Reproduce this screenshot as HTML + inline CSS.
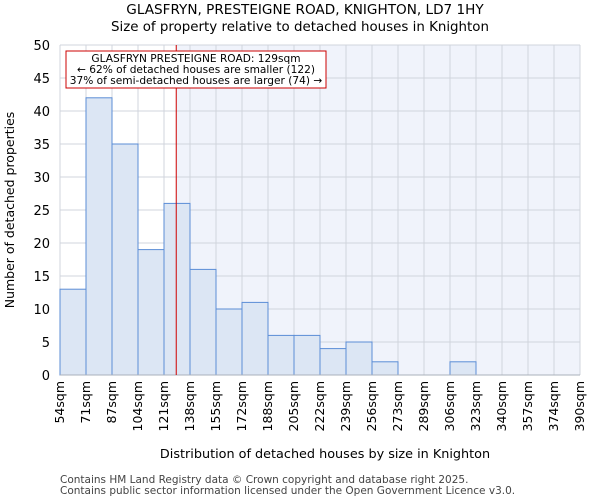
<!DOCTYPE html>
<html><head><meta charset="utf-8"><style>
body{margin:0;background:#fff;width:600px;height:500px;overflow:hidden;font-family:"DejaVu Sans","Liberation Sans",sans-serif}
</style></head><body>
<svg id="chart" width="600" height="500" font-family="DejaVu Sans, Liberation Sans, sans-serif">
<text x="305" y="14" text-anchor="middle" font-size="13.6">GLASFRYN, PRESTEIGNE ROAD, KNIGHTON, LD7 1HY</text>
<text x="300" y="31" text-anchor="middle" font-size="13.4">Size of property relative to detached houses in Knighton</text>
<g id="plot"></g>
<text x="325" y="458" text-anchor="middle" font-size="12.8">Distribution of detached houses by size in Knighton</text>
<text x="14" y="210" text-anchor="middle" font-size="12.5" transform="rotate(-90 14 210)">Number of detached properties</text>
<text x="60" y="483" font-size="10.5" fill="#444">Contains HM Land Registry data © Crown copyright and database right 2025.</text>
<text x="60" y="494" font-size="10.5" fill="#444">Contains public sector information licensed under the Open Government Licence v3.0.</text>
</svg>
<script>
const binEdges=[54,71,87,104,121,138,155,172,188,205,222,239,256,273,289,306,323,340,357,374,390];
const counts=[13,42,35,19,26,16,10,11,6,6,4,5,2,0,0,2,0,0,0,0];
const yTicks=[0,5,10,15,20,25,30,35,40,45,50];
const subjectSize=129;
const NS="http://www.w3.org/2000/svg";
const X0=60,X1=580,Y0=375,Y1=45,yMax=50;
const nb=counts.length,bw=(X1-X0)/nb;
const xIdx=i=>X0+i*bw;
const xVal=v=>{for(let i=0;i<nb;i++){if(v<=binEdges[i+1]){return xIdx(i)+bw*(v-binEdges[i])/(binEdges[i+1]-binEdges[i]);}}return X1;};
const y=v=>Y0-(v/yMax)*(Y0-Y1);
const g=document.getElementById('plot');
function mk(t,a){const e=document.createElementNS(NS,t);for(const k in a)e.setAttribute(k,a[k]);g.appendChild(e);return e;}
const sx=xVal(subjectSize);
let e=mk('rect',{x:X0,y:Y1,width:X1-X0,height:Y0-Y1,fill:'#fff'});


e=mk('rect',{x:sx,y:Y1,width:X1-sx,height:Y0-Y1,fill:'#f0f3fb'});


yTicks.forEach(t=>{
 e=mk('line',{x1:X0,x2:X1,y1:y(t),y2:y(t),stroke:'#d0d4dc','stroke-width':1});
 
 
 e=mk('text',{x:X0-10,y:y(t)+5,'text-anchor':'end','font-size':13});
 e.textContent=t;
 
 
});
for(let i=0;i<=nb;i++){
 e=mk('line',{x1:xIdx(i),x2:xIdx(i),y1:Y1,y2:Y0,stroke:'#d0d4dc','stroke-width':1});
 
 
 const lx=xIdx(i)+4;
 e=mk('text',{x:lx,y:381,'text-anchor':'end','font-size':12.5,transform:`rotate(-90 ${lx} 381)`});
 e.textContent=binEdges[i]+'sqm';
 
 
}
counts.forEach((c,i)=>{
 if(c<=0)return;
 e=mk('rect',{x:xIdx(i),y:y(c),width:bw,height:Y0-y(c),fill:'#dce6f4',stroke:'#5b8dd6','stroke-width':1});
 
 
});
e=mk('line',{x1:X0,x2:X1,y1:Y0,y2:Y0,stroke:'#aab0bb','stroke-width':1});


e=mk('line',{x1:sx,x2:sx,y1:Y1,y2:Y0,stroke:'#d00000','stroke-width':1});


e=mk('rect',{x:66,y:51,width:260,height:37,fill:'#fff',stroke:'#cc0000','stroke-width':1});


['GLASFRYN PRESTEIGNE ROAD: 129sqm','← 62% of detached houses are smaller (122)','37% of semi-detached houses are larger (74) →'].forEach((s,i)=>{
 e=mk('text',{x:196,y:62+i*11,'text-anchor':'middle','font-size':10.6});
 e.textContent=s;
 
 
});
</script>
</body></html>
